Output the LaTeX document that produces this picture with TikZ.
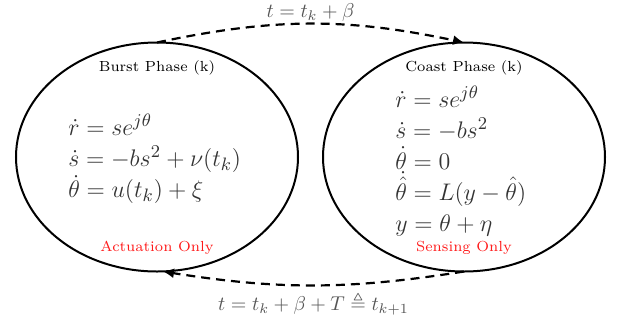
\documentclass[tikz,border=0pt]{standalone}
\usepackage{amsmath,amssymb}
\usetikzlibrary{arrows.meta,positioning,shapes.geometric}
\definecolor{labelgray}{HTML}{555555}
\definecolor{eqgray}{HTML}{333333}
\definecolor{onlyred}{HTML}{FF1A1A}

\begin{document}
\begin{tikzpicture}[x=0.5pt,y=-0.5pt,
    phase/.style={draw,ellipse,line width=1pt,minimum width=141pt,minimum height=114.5pt,inner sep=0pt,outer sep=0pt},
    title/.style={font=\fontsize{7.3}{9}\selectfont,inner sep=0pt},
    mode/.style={title,text=onlyred},
    eqs/.style={font=\fontsize{13.2}{15.5}\selectfont,text=eqgray,align=left,anchor=west,inner sep=0pt},
    trans/.style={-{Latex[length=5.5pt,width=5pt]},line width=1.1pt,dash pattern=on 4.5pt off 3pt},
    cond/.style={text=labelgray,font=\fontsize{10}{12}\selectfont}
  ]
    \useasboundingbox (0,0) rectangle (621,322);
    \node[phase] (burst) at (157,157) {};
    \node[phase,right=12.5pt of burst] (coast) {};

    \node[title] (bt) at (157,68) {Burst Phase (k)};
    \node[title] (ct) at (bt -| coast) {Coast Phase (k)};
    \node[mode] (bm) at (157,248) {Actuation Only};
    \node[mode] (cm) at (bm -| coast) {Sensing Only};

    \node[eqs] (beq) at (68,159) {$\dot{r}=se^{j\theta}$\\ $\dot{s}=-bs^2+\nu(t_k)$\\ $\dot{\theta}=u(t_k)+\xi$};
    \node[eqs] (ceq) at (395,161) {$\dot{r}=se^{j\theta}$\\ $\dot{s}=-bs^2$\\ $\dot{\theta}=0$\\ $\dot{\hat{\theta}}=L(y-\hat{\theta})$\\ $y=\theta+\eta$};

    \draw[trans] (burst.north) to[bend left=12]
      node[cond,midway,above,inner sep=0.5pt]{$t=t_k+\beta$} (coast.north);
    \draw[trans] (coast.south) to[bend left=9]
      node[cond,midway,below,inner sep=3pt]{$t=t_k+\beta+T\triangleq t_{k+1}$} ([xshift=3pt]burst.south);
\end{tikzpicture}
\end{document}
